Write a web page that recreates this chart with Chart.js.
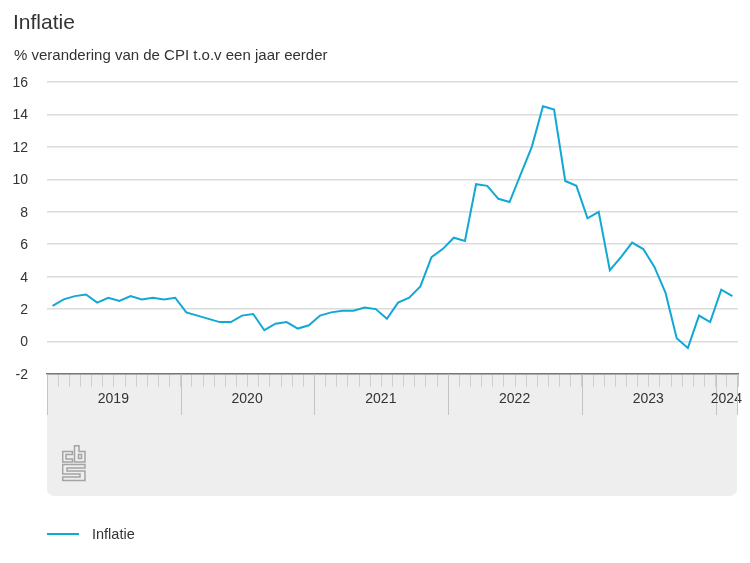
<!DOCTYPE html>
<html>
<head>
<meta charset="utf-8">
<title>Inflatie</title>
<script src="https://cdn.jsdelivr.net/npm/chart.js@4"></script>
<style>
  html, body { margin: 0; padding: 0; background: #fff; }
  body { width: 750px; height: 563px; position: relative; overflow: hidden; font-family: "Liberation Sans", Arial, sans-serif; color: #333; }
  #wrap { position: absolute; left: 0; top: 0; width: 750px; height: 563px; }
  .txt { position: absolute; white-space: nowrap; }
  #title { left: 13px; top: 9px; font-size: 21px; line-height: 26px; }
  #sub { left: 14px; top: 46px; font-size: 15px; line-height: 18px; }
  #legline { position: absolute; left: 47px; top: 533px; width: 32px; height: 2px; background: #12a8d5; }
  #legtxt { left: 92px; top: 525px; font-size: 14.5px; line-height: 18px; }
  #logo { position: absolute; left: 62px; top: 445px; }
</style>
</head>
<body>
<div id="wrap"><canvas id="chart" width="750" height="563"></canvas></div>
<div id="title" class="txt">Inflatie</div>
<div id="sub" class="txt">% verandering van de CPI t.o.v een jaar eerder</div>
<svg id="logo" width="24" height="37" viewBox="0 0 24 37" fill="none" stroke="#a4a4a4" stroke-width="1.5">
  <path d="M10.5 6.5H.7V17H10.5V14H4V9.5H10.5Z"/>
  <path d="M12.5 .7H17V6.5H23V17H12.5ZM16.5 9.5H19.5V13.5H16.5Z"/>
  <path d="M.7 19.5H23V23H5V26H23V35.5H.7V32H18V29H.7Z"/>
</svg>
<div id="legline"></div>
<div id="legtxt" class="txt">Inflatie</div>
<script>
const years = ["2019", "2020", "2021", "2022", "2023", "2024"];
const monthsPerYear = [12, 12, 12, 12, 12, 2];
const inflatie = [
  2.2, 2.6, 2.8, 2.9, 2.4, 2.7, 2.5, 2.8, 2.6, 2.7, 2.6, 2.7,
  1.8, 1.6, 1.4, 1.2, 1.2, 1.6, 1.7, 0.7, 1.1, 1.2, 0.8, 1.0,
  1.6, 1.8, 1.9, 1.9, 2.1, 2.0, 1.4, 2.4, 2.7, 3.4, 5.2, 5.7,
  6.4, 6.2, 9.7, 9.6, 8.8, 8.6, 10.3, 12.0, 14.5, 14.3, 9.9, 9.6,
  7.6, 8.0, 4.4, 5.2, 6.1, 5.7, 4.6, 3.0, 0.2, -0.4, 1.6, 1.2,
  3.2, 2.8
];

//month labels like 2019-1, only used as categories
const labels = [];
years.forEach((y, i) => {
  for (let m = 1; m <= monthsPerYear[i]; m++) labels.push(y + "-" + m);
});

//grey panel behind the x axis
const panelPlugin = {
  id: "panel",
  beforeDraw(chart) {
    const ctx = chart.ctx;
    const { left, right, bottom } = chart.chartArea;
    ctx.save();
    ctx.fillStyle = "#eeeeee";
    ctx.beginPath();
    ctx.roundRect(left, bottom, right - left - 1, 122, [0, 0, 7, 7]);
    ctx.fill();
    ctx.restore();
  },
};

//long ticks and year labels, placed at the month band edges
const yearPlugin = {
  id: "yearAxis",
  afterDraw(chart) {
    const ctx = chart.ctx;
    const x = chart.scales.x;
    const bottom = chart.chartArea.bottom;
    const halfBand = (x.getPixelForValue(1) - x.getPixelForValue(0)) / 2;
    ctx.save();
    ctx.strokeStyle = "#c4c4c4";
    ctx.lineWidth = 1;
    ctx.fillStyle = "#333";
    ctx.font = '14px "Liberation Sans", Arial, sans-serif';
    ctx.textAlign = "center";
    ctx.textBaseline = "middle";
    let start = 0;
    years.forEach((y, i) => {
      const end = start + monthsPerYear[i];
      const x0 = x.getPixelForValue(start) - halfBand;
      const x1 = x.getPixelForValue(end - 1) + halfBand;
      ctx.beginPath();
      ctx.moveTo(Math.round(x0) + 0.5, bottom);
      ctx.lineTo(Math.round(x0) + 0.5, bottom + 41);
      ctx.stroke();
      ctx.fillText(y, (x0 + x1) / 2 - 0.5, bottom + 25);
      if (i === years.length - 1) {
        ctx.beginPath();
        ctx.moveTo(Math.round(x1) - 0.5, bottom);
        ctx.lineTo(Math.round(x1) - 0.5, bottom + 41);
        ctx.stroke();
      }
      start = end;
    });
    ctx.restore();
  },
};

new Chart(document.getElementById("chart"), {
  type: "line",
  data: {
    labels: labels,
    datasets: [
      {
        label: "Inflatie",
        data: inflatie,
        borderColor: "#12a8d5",
        borderWidth: 2,
        pointRadius: 0,
        tension: 0,
        clip: false,
      },
    ],
  },
  options: {
    responsive: false,
    animation: false,
    layout: { padding: { left: 0, top: 82, right: 12, bottom: 152 } },
    plugins: { legend: { display: false }, title: { display: false }, tooltip: { enabled: false } },
    scales: {
      x: {
        type: "category",
        offset: true,
        grid: {
          offset: true,
          drawOnChartArea: false,
          drawTicks: true,
          tickLength: 13,
          tickWidth: 1,
          tickColor: "#cfcfcf",
        },
        border: { display: true, color: "#777777", width: 1.5 },
        ticks: { display: true, autoSkip: false, maxRotation: 0, callback: () => "", font: { size: 1 }, padding: 0 },
        afterFit(scale) {
          scale.height = 37;
        },
      },
      y: {
        min: -2,
        max: 16,
        grid: { color: "#dcdcdc", lineWidth: 1.5, drawTicks: false },
        border: { display: false },
        ticks: {
          stepSize: 2,
          padding: 19,
          labelOffset: 1,
          color: "#333",
          font: { family: '"Liberation Sans", Arial, sans-serif', size: 14 },
        },
        afterFit(scale) {
          scale.width = 47;
        },
      },
    },
  },
  plugins: [panelPlugin, yearPlugin],
});
</script>
</body>
</html>
